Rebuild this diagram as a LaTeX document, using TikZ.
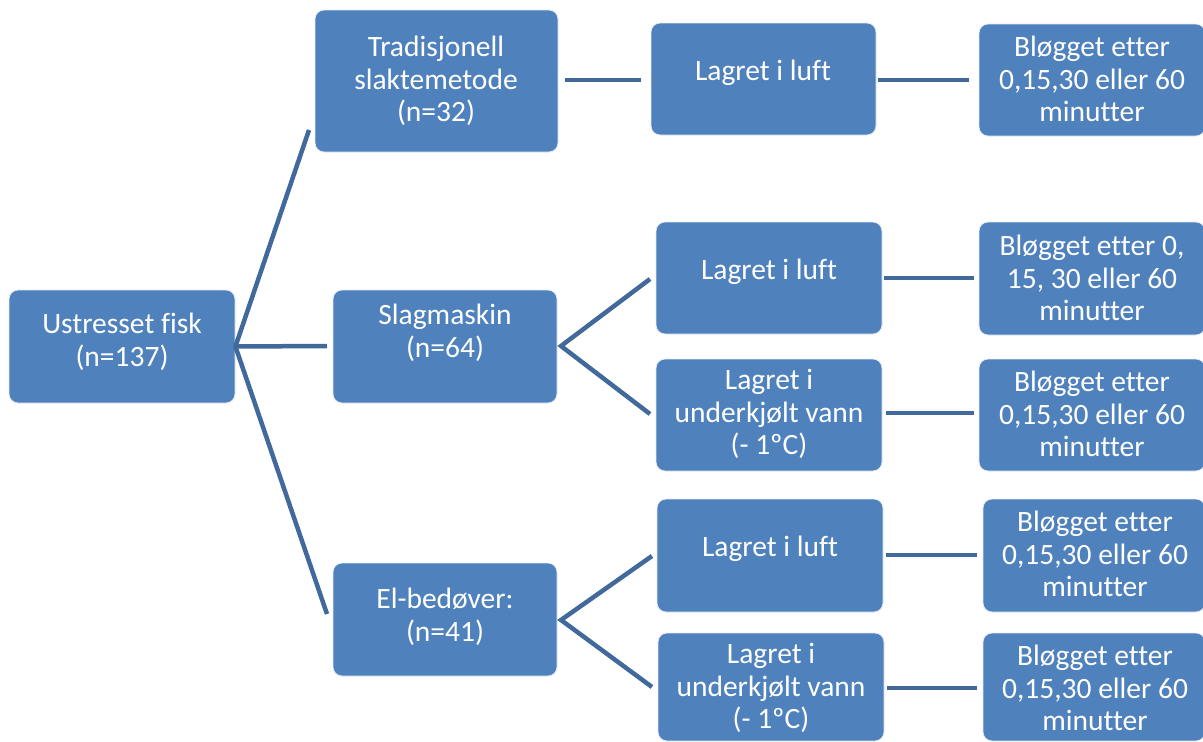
\documentclass[tikz,border=0pt]{standalone}
\usepackage{fontspec}
\setmainfont{Carlito}[Ligatures={NoCommon}]
\definecolor{boxfill}{HTML}{4F81BD}
\definecolor{linkcol}{HTML}{41699C}
\begin{document}
\begin{tikzpicture}[x=1pt,y=-1pt,
  box/.style={draw=white!85!boxfill, line width=0.8pt, fill=boxfill, rounded corners=9pt, inner sep=0pt},
  txt/.style={text=white, font=\fontsize{29.5}{32.5}\selectfont, align=center, inner sep=0pt},
  link/.style={draw=linkcol, line width=4.5pt}]
\useasboundingbox (0,0) rectangle (1203,742);

% boxes: corners given as (left,top) rectangle (right,bottom)
\newcommand{\fishbox}[5]{%
  \node[box, minimum width=#3-#1, minimum height=#4-#2] (#5) at ({(#1+#3)/2},{(#2+#4)/2}) {};}

\fishbox{9}{290}{235}{403}{root}
\fishbox{315}{10}{558}{152}{trad}
\fishbox{333}{290}{557}{403}{slag}
\fishbox{333}{563}{557}{676}{el}

\fishbox{651}{23}{876}{135}{luftA}
\fishbox{656}{222}{882}{334}{luftB}
\fishbox{656}{359}{882}{471}{vannB}
\fishbox{657}{499}{883}{612}{luftC}
\fishbox{658}{633}{884}{741}{vannC}

\fishbox{979}{24}{1205}{136}{blogA}
\fishbox{979}{222}{1205}{335}{blogB}
\fishbox{979}{359}{1205}{471}{blogC}
\fishbox{983}{499}{1205}{612}{blogD}
\fishbox{983}{633}{1205}{741}{blogE}

% labels
\node[txt] (troot) at (122,342) {Ustresset fisk\\(n=137)};
\node[txt] (ttrad) at (436,81) {Tradisjonell\\slaktemetode\\(n=32)};
\node[txt] (tslag) at (445,333) {Slagmaskin\\(n=64)};
\node[txt] (tel) at (445,617) {El-bedøver:\\(n=41)};
\node[txt] (tluftA) at (763,73) {Lagret i luft};
\node[txt] (tluftB) at (769,272) {Lagret i luft};
\node[txt] (tvannB) at (769,414) {Lagret i\\underkjølt vann\\(- 1ºC)};
\node[txt] (tluftC) at (770,549) {Lagret i luft};
\node[txt] (tvannC) at (771,688) {Lagret i\\underkjølt vann\\(- 1ºC)};
\node[txt] (tblogA) at (1092,79) {Bløgget etter\\0,15,30 eller 60\\minutter};
\node[txt] (tblogB) at (1092,278) {Bløgget etter 0,\\15, 30 eller 60\\minutter};
\node[txt] (tblogC) at (1092,414) {Bløgget etter\\0,15,30 eller 60\\minutter};
\node[txt] (tblogD) at (1095,554) {Bløgget etter\\0,15,30 eller 60\\minutter};
\node[txt] (tblogE) at (1095,688) {Bløgget etter\\0,15,30 eller 60\\minutter};

% fork points and free ends of the connectors
\coordinate (rootfork) at (root.east);
\coordinate (tradend) at (309,130);
\coordinate (slagend) at (327,346);
\coordinate (elend) at (327,614);
\coordinate (slagfork) at (561,346);
\coordinate (elfork) at (561,620);

\draw[link] (tradend) -- (rootfork) -- (elend);
\draw[link] (rootfork) -- (slagend);
\draw[link] (565,80) -- (641,80);
\draw[link] (878,80) -- (969,80);

\draw[link] (650,279) -- (slagfork) -- (650,414);
\draw[link] (884,278) -- (974,278);
\draw[link] (886,413) -- (974,413);

\draw[link] (652,556) -- (elfork) -- (652,687);
\draw[link] (886,555) -- (977,555);
\draw[link] (887,688) -- (977,688);
\end{tikzpicture}
\end{document}
